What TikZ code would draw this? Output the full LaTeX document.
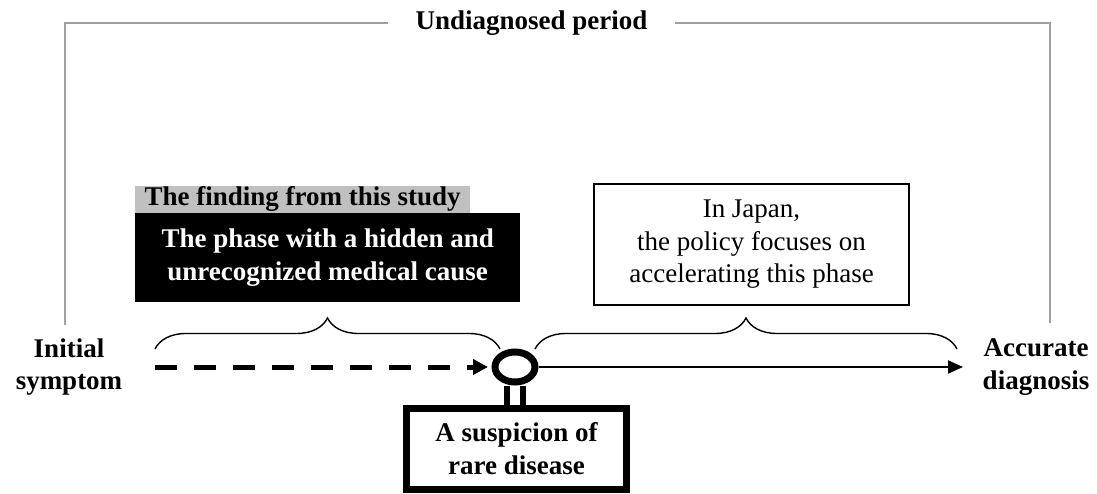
\documentclass[tikz,border=0pt]{standalone}
\usepackage{fontspec}
\setmainfont{Liberation Serif}
\usetikzlibrary{arrows.meta,positioning,calc,decorations.pathreplacing,shapes.geometric}
\definecolor{framegray}{RGB}{160,160,160}
\definecolor{findgray}{RGB}{192,192,192}

\begin{document}
\begin{tikzpicture}[x=1pt,y=1pt,
    font=\fontsize{27}{32.5}\selectfont,
    lbl/.style={align=center, font=\fontsize{27}{32.5}\selectfont\bfseries},
    phasebrace/.style={decorate, decoration={brace, amplitude=31pt}, line width=1.4pt},
    heavy/.style={draw, line width=7pt}]
  \useasboundingbox (0,0) rectangle (1097,493);

  % --- the whole undiagnosed period
  \node[lbl, inner xsep=27pt] (undiag) at (531.5,470) {Undiagnosed period};
  \coordinate (frameL) at (65,168);
  \coordinate (frameR) at (1050,170);
  \draw[framegray, line width=1.2pt] (undiag.west) -| (frameL);
  \draw[framegray, line width=1.2pt] (undiag.east) -| (frameR);

  % --- the two phases
  \node[lbl, fill=findgray, minimum width=335, minimum height=27, inner sep=0, anchor=south west] (finding) at (135,280) {The finding from this study};
  \node[lbl, fill=black, text=white, minimum width=385, minimum height=89, inner sep=0, anchor=north west] (hidden) at (finding.south west) {The phase with a hidden and\\unrecognized medical cause};
  \node[draw, line width=1.6pt, align=center, minimum width=315, minimum height=121, inner sep=0] (policy) at (751.5,248.5) {In Japan,\\the policy focuses on\\accelerating this phase};

  \coordinate (hidL) at (155,144);
  \coordinate (hidR) at (500,144);
  \coordinate (polL) at (535,144);
  \coordinate (polR) at (957,144);
  \draw[phasebrace] (hidL) -- (hidR);
  \draw[phasebrace] (polL) -- (polR);

  % --- time line
  \node[lbl] (initial) at (69,126) {Initial\\symptom};
  \node[lbl] (diag) at (1036,126) {Accurate\\diagnosis};
  \node[ellipse, heavy, fill=white, minimum width=40, minimum height=30, inner sep=0] (marker) at (515,126) {};
  \node[lbl, heavy, minimum width=220, minimum height=80.5, inner sep=0] (suspicion) at (516.5,44.25) {A suspicion of\\rare disease};
  \draw[line width=6pt] ([xshift=-8pt]marker.south) -- ([xshift=-8pt]marker.south |- suspicion.north);
  \draw[line width=6pt] ([xshift=8pt]marker.south) -- ([xshift=8pt]marker.south |- suspicion.north);

  \coordinate (dashL) at (155,126);
  \coordinate (arrowR) at (963,126);
  \draw[line width=5pt, dash pattern=on 22pt off 17pt, shorten >=3.5pt, -{Triangle[length=15pt,width=15pt]}] (dashL) -- (marker.west);
  \draw[line width=2pt, -{Triangle[length=15pt,width=13pt]}] (marker.east) -- (arrowR);
\end{tikzpicture}
\end{document}
